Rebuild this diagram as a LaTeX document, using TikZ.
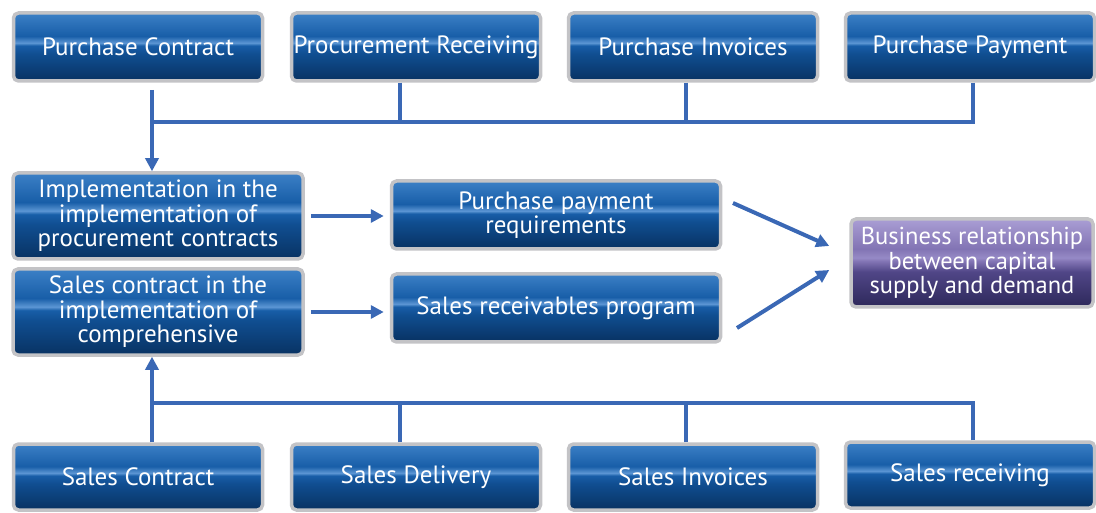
\documentclass[tikz,border=0pt]{standalone}
\usepackage{fontspec}
\setmainfont{PT Sans}
\usetikzlibrary{arrows.meta}
\definecolor{lineblue}{RGB}{58,104,181}
\definecolor{bT}{RGB}{60,128,198}
\definecolor{bU}{RGB}{24,94,168}
\definecolor{bL}{RGB}{92,150,212}
\definecolor{bD}{RGB}{16,78,145}
\definecolor{bB}{RGB}{8,50,98}
\definecolor{pT}{RGB}{170,158,212}
\definecolor{pU}{RGB}{130,116,180}
\definecolor{pL}{RGB}{150,138,198}
\definecolor{pD}{RGB}{80,70,135}
\definecolor{pB}{RGB}{45,40,90}
\definecolor{rim}{RGB}{195,195,198}
\pgfdeclareverticalshading{bluegloss}{100bp}{color(0bp)=(bB); color(25bp)=(bB); color(45bp)=(bD); color(51bp)=(bU); color(53bp)=(bL); color(58bp)=(bU); color(75bp)=(bT); color(100bp)=(bT)}
\pgfdeclareverticalshading{purplegloss}{100bp}{color(0bp)=(pB); color(25bp)=(pB); color(45bp)=(pD); color(51bp)=(pU); color(53bp)=(pL); color(58bp)=(pU); color(75bp)=(pT); color(100bp)=(pT)}
\tikzset{
  box/.style={draw=rim, line width=3.5pt, rounded corners=5pt, shading=bluegloss,
    text=white, align=center, inner sep=0pt, font=\fontsize{25}{24.5}\selectfont},
  pbox/.style={box, shading=purplegloss, font=\fontsize{24.5}{24.5}\selectfont},
  conn/.style={draw=lineblue, line width=4pt},
  arr/.style={conn, -{Triangle[length=13pt,width=13pt]}}
}
\begin{document}
\begin{tikzpicture}[x=1pt,y=-1pt]
\useasboundingbox (0,0) rectangle (1096,513);
% top row
\node[box, minimum width=249pt, minimum height=68pt] (pc) at (138,47) {Purchase Contract};
\node[box, minimum width=249pt, minimum height=68pt] (pr) at (416,47) {Procurement Receiving};
\node[box, minimum width=249pt, minimum height=68pt] (pi) at (693,47) {Purchase Invoices};
\node[box, minimum width=249pt, minimum height=68pt] (pp) at (970,47) {Purchase Payment};
% middle
\node[box, minimum width=290pt, minimum height=86pt] (impl) at (158,216) {Implementation in the\\implementation of\\procurement contracts};
\node[box, minimum width=290pt, minimum height=86pt] (scimp) at (158,312) {Sales contract in the\\implementation of\\comprehensive};
\node[box, minimum width=329pt, minimum height=68pt] (preq) at (556,215) {Purchase payment\\requirements};
\node[box, minimum width=329pt, minimum height=68pt] (srp) at (556,308) {Sales receivables program};
\node[pbox, minimum width=242pt, minimum height=88pt] (biz) at (972,263) {Business relationship\\between capital\\supply and demand};
% bottom row
\node[box, minimum width=249pt, minimum height=66pt] (sc) at (138,477) {Sales Contract};
\node[box, minimum width=249pt, minimum height=66pt] (sd) at (416,477) {Sales Delivery};
\node[box, minimum width=249pt, minimum height=66pt] (si) at (693,477) {Sales Invoices};
\node[box, minimum width=249pt, minimum height=66pt] (sr) at (970,475) {Sales receiving};
% top bus
\coordinate (tL) at (152,122);
\coordinate (tR) at (973,122);
\coordinate (t2) at (400,122);
\coordinate (t3) at (686,122);
\coordinate (pcA) at (152,90);
\draw[conn] (tL) -- (tR);
\draw[conn] (pr.south -| t2) -- (t2);
\draw[conn] (pi.south -| t3) -- (t3);
\draw[conn] (pp.south -| tR) -- ([yshift=-2pt]tR);
\draw[arr] (pcA) -- (impl.north -| pcA);
% bottom bus
\coordinate (bL) at (152,403);
\coordinate (bR) at (973,403);
\coordinate (b2) at (400,403);
\coordinate (b3) at (686,403);
\draw[conn] (bL) -- (bR);
\draw[conn] (sd.north -| b2) -- (b2);
\draw[conn] (si.north -| b3) -- (b3);
\draw[conn] (sr.north -| bR) -- ([yshift=2pt]bR);
\draw[arr] (sc.north -| bL) -- (scimp.south -| bL);
% middle arrows
\coordinate (pStart) at (733,203);
\coordinate (sStart) at (737,328);
\draw[arr] ([xshift=6pt]impl.east) -- ([xshift=-6pt]impl.east -| preq.west);
\draw[arr] ([xshift=6pt]scimp.east) -- ([xshift=-6pt]scimp.east -| srp.west);
\draw[arr] (pStart) -- ([xshift=-20pt,yshift=17pt]biz.west);
\draw[arr] (sStart) -- ([xshift=-20pt,yshift=-7pt]biz.west);
\end{tikzpicture}
\end{document}
